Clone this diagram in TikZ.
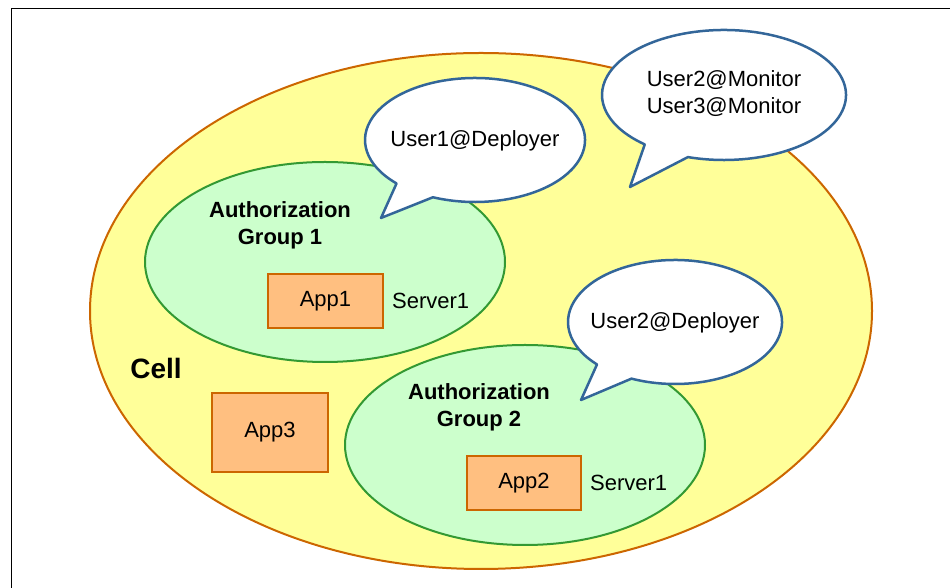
\documentclass[tikz,border=0pt]{standalone}
\usepackage{fontspec}
\setmainfont{Liberation Sans}
\usetikzlibrary{shapes.geometric, positioning}
\definecolor{cellfill}{HTML}{FFFF99}
\definecolor{celledge}{HTML}{CC6600}
\definecolor{grpfill}{HTML}{CCFFCC}
\definecolor{grpedge}{HTML}{339933}
\definecolor{appfill}{HTML}{FFBF80}
\definecolor{bubedge}{HTML}{336699}

\begin{document}
\begin{tikzpicture}[x=1pt,y=1pt,
  txt/.style={font=\fontsize{22}{27}\selectfont, align=center, inner sep=0pt},
  cell/.style={ellipse, draw=celledge, fill=cellfill, line width=2pt, inner sep=0pt},
  group/.style={ellipse, draw=grpedge, fill=grpfill, line width=2pt, inner sep=0pt,
    minimum width=360pt, minimum height=200pt},
  app/.style={txt, draw=celledge, fill=appfill, line width=2pt, minimum height=54pt},
  bubble/.style={draw=bubedge, fill=white, line width=2.5pt, line join=round}]
  \useasboundingbox (0,0) rectangle (950,588);
  \draw[line width=0.8pt] (11,0) -- (11,580) -- (950,580);

  % cell and groups
  \node[cell, minimum width=782pt, minimum height=516pt] (cell) at (481,277) {};
  \node[txt, font=\fontsize{28}{32}\selectfont\bfseries] (celltxt) at (156,220) {Cell};
  \node[group] (g1) at (325,326) {};
  \node[group] (g2) at (525,143) {};
  \node[txt, font=\fontsize{22}{27}\selectfont\bfseries] (g1txt) at (280,363) {Authorization\\Group 1};
  \node[txt, font=\fontsize{22}{27}\selectfont\bfseries] (g2txt) at (479,181) {Authorization\\Group 2};

  % applications
  \node[app, minimum width=115pt] (a1) at (325.5,287) {App1};
  \node[txt] (s1) [right=8pt of a1] {Server1};
  \node[app, minimum width=114pt] (a2) at (524,105) {App2};
  \node[txt] (s2) [right=8pt of a2] {Server1};
  \node[app, minimum width=116pt, minimum height=79pt] (a3) at (270,155.5) {App3};

  % speech bubbles
  \coordinate (t1) at (381,370);
  \coordinate (t2) at (630,401);
  \coordinate (t3) at (581,188);
  \draw[bubble] (475,448) ++(247.5:110 and 62)
    arc[start angle=247.5, end angle=584.5, x radius=110, y radius=62] -- (t1) -- cycle;
  \draw[bubble] (724,493) ++(252.8:122 and 65)
    arc[start angle=252.8, end angle=589.5, x radius=122, y radius=65] -- (t2) -- cycle;
  \draw[bubble] (675,266) ++(246:107 and 62)
    arc[start angle=246, end angle=583.2, x radius=107, y radius=62] -- (t3) -- cycle;
  \node[txt] (u1) at (475,447) {User1@Deployer};
  \node[txt] (u23) at (724,494) {User2@Monitor\\User3@Monitor};
  \node[txt] (u2) at (675,265) {User2@Deployer};
\end{tikzpicture}
\end{document}
